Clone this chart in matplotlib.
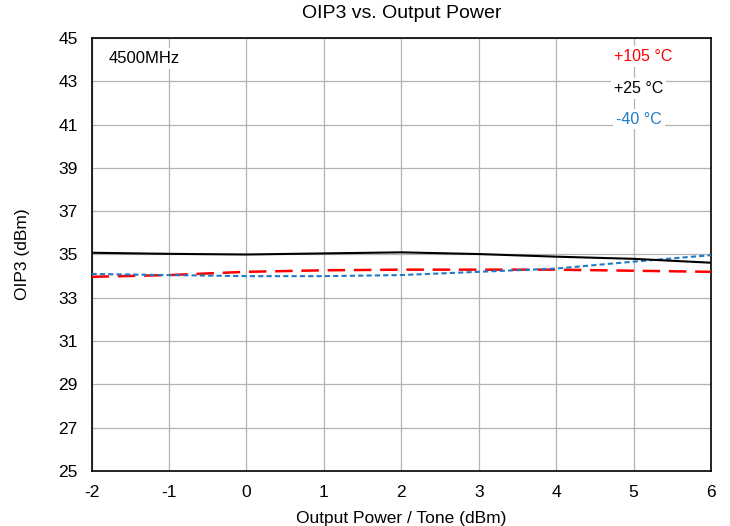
import matplotlib
matplotlib.use("Agg")
import matplotlib.pyplot as plt

plt.rcParams['font.family'] = ['Liberation Sans', 'DejaVu Sans']
plt.rcParams['axes.unicode_minus'] = False

pout = [-2, -1, 0, 1, 2, 3, 4, 5, 6]
oip3_105 = [33.97, 34.05, 34.2, 34.27, 34.3, 34.3, 34.3, 34.25, 34.2]
oip3_25 = [35.08, 35.03, 35.0, 35.05, 35.1, 35.02, 34.9, 34.8, 34.62]
oip3_m40 = [34.1, 34.05, 34.0, 34.0, 34.05, 34.2, 34.35, 34.67, 34.97]

xticks = [-2, -1, 0, 1, 2, 3, 4, 5, 6]
yticks = [25, 27, 29, 31, 33, 35, 37, 39, 41, 43, 45]

fig = plt.figure(figsize=(7.3, 5.26), dpi=100)
ax = fig.add_axes([91.5/730, 55/526, (711-91.5)/730, (471-38)/526])

ax.plot(pout, oip3_105, color='#ff0000', lw=1.8, dashes=(7, 3.5), zorder=3)
ax.plot(pout, oip3_25, color='black', lw=1.5, zorder=4)
ax.plot(pout, oip3_m40, color='#1f7bc8', lw=1.5, dashes=(2.5, 1.5), zorder=3)

ax.set_xlim(-2, 6)
ax.set_ylim(25, 45)
ax.set_xticks(xticks)
ax.set_yticks(yticks)
ax.tick_params(axis='x', length=0, labelsize=12.5, pad=10)
ax.tick_params(axis='y', length=0, labelsize=12.5, pad=10)
ax.grid(True, color='#b3b3b3', lw=0.9)
ax.set_axisbelow(True)
for s in ax.spines.values():
    s.set_color('black')
    s.set_linewidth(1.2)

ax.set_xlabel('Output Power / Tone (dBm)', fontsize=12.5, labelpad=8)
ax.set_ylabel('OIP3 (dBm)', fontsize=12.5, labelpad=20)
fig.text((91.5+711)/2/730, 1-13/526, 'OIP3 vs. Output Power', ha='center', va='center', fontsize=14)

bb = dict(facecolor='white', edgecolor='none', pad=2)
ax.text(-1.78, 44.04, '4500MHz', fontsize=12, va='center', ha='left', bbox=bb, zorder=5)
ax.text(5.13, 44.14, '+105 °C', fontsize=11.5, color='#ff0000', va='center', ha='center', bbox=bb, zorder=5)
ax.text(5.06, 42.67, '+25 °C', fontsize=11.5, color='black', va='center', ha='center', bbox=bb, zorder=5)
ax.text(5.07, 41.25, '-40 °C', fontsize=11.5, color='#1f7bc8', va='center', ha='center', bbox=bb, zorder=5)

fig.savefig('out.png', dpi=100)
